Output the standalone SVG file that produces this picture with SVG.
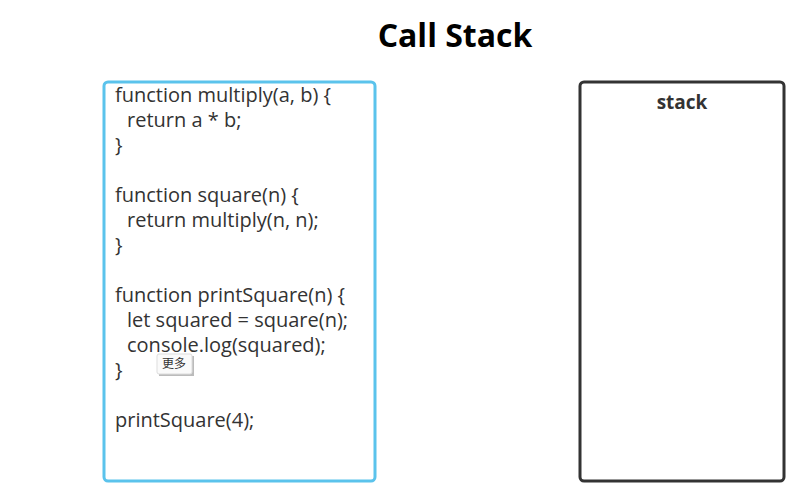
<svg xmlns="http://www.w3.org/2000/svg" width="811" height="492" viewBox="0 0 811 492">
<style>
.code{font-family:"Open Sans","Noto Sans",sans-serif;font-size:20px;fill:#333}
.title{font-family:"Open Sans","Noto Sans",sans-serif;font-size:32px;font-weight:bold;fill:#000}
.lbl{font-family:"Open Sans","Noto Sans",sans-serif;font-size:19px;font-weight:bold;fill:#333}
</style>
<rect width="811" height="492" fill="#fff"/>
<g id="title"><text class="title" x="455" y="47" text-anchor="middle">Call Stack</text></g>
<g id="code">
<rect x="104" y="82" width="271" height="399" rx="4" fill="#fff" stroke="#5bc3ec" stroke-width="3"/>
<text class="code" x="115" y="102">function multiply(a, b) {</text>
<text class="code" x="127" y="127">return a * b;</text>
<text class="code" x="115" y="152">}</text>
<text class="code" x="115" y="202">function square(n) {</text>
<text class="code" x="127" y="227">return multiply(n, n);</text>
<text class="code" x="115" y="252">}</text>
<text class="code" x="115" y="302">function printSquare(n) {</text>
<text class="code" x="127" y="327">let squared = square(n);</text>
<text class="code" x="127" y="352">console.log(squared);</text>
<text class="code" x="115" y="377">}</text>
<text class="code" x="115" y="427">printSquare(4);</text>
</g>
<g id="more">
<rect x="159" y="356" width="35" height="20" fill="#bbb"/>
<rect x="157" y="354" width="35" height="20" rx="2" fill="#fafafa" stroke="#ddd" stroke-width="1"/>
<text x="174" y="368" text-anchor="middle" font-family="'Noto Sans CJK SC',sans-serif" font-size="12" fill="#333">更多</text>
</g>
<g id="stack">
<rect x="580" y="82" width="204" height="399" rx="4" fill="#fff" stroke="#333" stroke-width="3"/>
<text class="lbl" x="682" y="109" text-anchor="middle">stack</text>
</g>
<g id="connectors"></g>
</svg>
